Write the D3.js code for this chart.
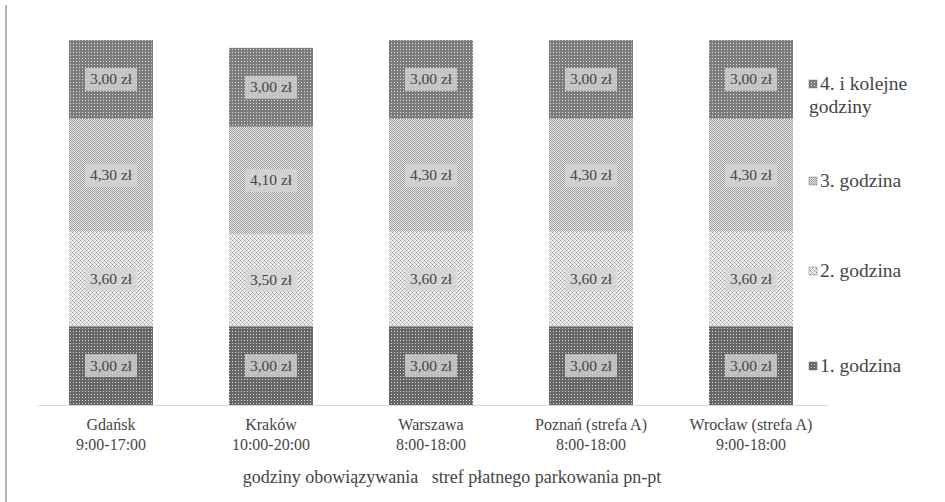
<!DOCTYPE html>
<html>
<head>
<meta charset="utf-8">
<script src="https://cdn.jsdelivr.net/npm/d3@7/dist/d3.min.js"></script>
<style>
  body { margin: 0; background: #fff; }
  svg { display: block; }
</style>
</head>
<body>
<svg id="chart" width="945" height="502"></svg>
<script>
// Cities and hours of paid parking zones (Mon–Fri)
const cities = ["Gdańsk", "Kraków", "Warszawa", "Poznań (strefa A)", "Wrocław (strefa A)"];
const hours = ["9:00-17:00", "10:00-20:00", "8:00-18:00", "8:00-18:00", "9:00-18:00"];

// Hourly fees in zł, one array per hour of parking
const hour1 = [3.00, 3.00, 3.00, 3.00, 3.00];
const hour2 = [3.60, 3.50, 3.60, 3.60, 3.60];
const hour3 = [4.30, 4.10, 4.30, 4.30, 4.30];
const hour4 = [3.00, 3.00, 3.00, 3.00, 3.00];

const seriesNames = ["1. godzina", "2. godzina", "3. godzina", "4. i kolejne godziny"];
const axisTitle = "godziny obowiązywania   stref płatnego parkowania pn-pt";

const FONT = "'Liberation Serif', 'Times New Roman', serif";
const INK = "#454545";

const svg = d3.select("#chart");
const defs = svg.append("defs");

// Fill patterns for each stacked series
function dotPattern(id, bg, dot, size) {
  const p = defs.append("pattern").attr("id", id).attr("patternUnits", "userSpaceOnUse")
    .attr("width", size).attr("height", size);
  p.append("rect").attr("width", size).attr("height", size).attr("fill", bg);
  p.append("rect").attr("x", 1).attr("y", 1).attr("width", 1).attr("height", 1).attr("fill", dot);
}
dotPattern("p1", "#666666", "#d8d8d8", 3);
// diamond lattice for the 2nd hour
(function () {
  const p = defs.append("pattern").attr("id", "p2").attr("patternUnits", "userSpaceOnUse")
    .attr("width", 4).attr("height", 4);
  p.append("rect").attr("width", 4).attr("height", 4).attr("fill", "#f2f2f2");
  [[0,0],[2,2],[1,1],[3,3],[1,3],[3,1]].forEach(([x, y], i) =>
    p.append("rect").attr("x", x).attr("y", y).attr("width", 1).attr("height", 1)
      .attr("fill", i < 2 ? "#8c8c8c" : "#c4c4c4"));
})();
// checkerboard for the 3rd hour
(function () {
  const p = defs.append("pattern").attr("id", "p3").attr("patternUnits", "userSpaceOnUse")
    .attr("width", 2).attr("height", 2);
  p.append("rect").attr("width", 2).attr("height", 2).attr("fill", "#e6e6e6");
  p.append("rect").attr("x", 0).attr("y", 0).attr("width", 1).attr("height", 1).attr("fill", "#a0a0a0");
  p.append("rect").attr("x", 1).attr("y", 1).attr("width", 1).attr("height", 1).attr("fill", "#a0a0a0");
})();
dotPattern("p4", "#7c7c7c", "#e0e0e0", 3);
const fills = ["url(#p1)", "url(#p2)", "url(#p3)", "url(#p4)"];

const rows = cities.map((c, i) => ({
  city: c, h1: hour1[i], h2: hour2[i], h3: hour3[i], h4: hour4[i]
}));
const keys = ["h1", "h2", "h3", "h4"];
const stacked = d3.stack().keys(keys)(rows);

const x = d3.scaleBand().domain(cities).range([31, 831]).paddingInner(0.475).paddingOuter(0.2375);
const y = d3.scaleLinear().domain([0, 13.9]).range([405, 40]);

// left border line
svg.append("line").attr("x1", 6).attr("x2", 6).attr("y1", 5).attr("y2", 502)
  .attr("stroke", "#9a9a9a").attr("stroke-width", 1.5);

// bars
const layers = svg.append("g").selectAll("g").data(stacked).join("g")
  .attr("fill", (d, i) => fills[i]);
layers.selectAll("rect").data(d => d).join("rect")
  .attr("x", d => x(d.data.city))
  .attr("width", x.bandwidth())
  .attr("y", d => y(d[1]))
  .attr("height", d => y(d[0]) - y(d[1]));

// data labels
const fmt = v => v.toFixed(2).replace(".", ",") + " zł";
stacked.forEach(layer => {
  layer.forEach(d => {
    const cx = x(d.data.city) + x.bandwidth() / 2;
    const cy = (y(d[0]) + y(d[1])) / 2;
    const val = d[1] - d[0];
    svg.append("rect").attr("x", cx - 26).attr("y", cy - 11.5).attr("width", 52).attr("height", 23)
      .attr("fill", "#d4d4d4").attr("fill-opacity", 0.8);
    svg.append("text").attr("x", cx).attr("y", cy + 5).attr("text-anchor", "middle")
      .style("font-family", FONT).attr("fill", INK)
      .attr("font-size", 15.5).text(fmt(val));
  });
});

// category axis
const xAxis = svg.append("g").attr("transform", "translate(0,405)")
  .call(d3.axisBottom(x).tickSize(0).tickFormat(""));
xAxis.select(".domain").attr("stroke", "#d9d9d9").attr("d", "M38,0.5H828");
cities.forEach((c, i) => {
  const cx = x(c) + x.bandwidth() / 2;
  const t = svg.append("text").attr("text-anchor", "middle").attr("font-size", 16)
    .style("font-family", FONT).attr("fill", INK);
  t.append("tspan").attr("x", cx).attr("y", 430).text(c);
  t.append("tspan").attr("x", cx).attr("y", 450).text(hours[i]);
});

// axis title
svg.append("text").attr("x", 452).attr("y", 483).attr("text-anchor", "middle")
  .style("font-family", FONT).attr("fill", INK)
  .attr("font-size", 18).style("white-space", "pre").text(axisTitle);

// legend
const legendY = [372, 277, 187, 90];
seriesNames.forEach((name, i) => {
  const g = svg.append("g").style("font-family", FONT).attr("fill", INK).attr("font-size", 19.5);
  g.append("rect").attr("x", 809).attr("y", legendY[i] - 10).attr("width", 8).attr("height", 8)
    .attr("fill", fills[i]).attr("stroke", "#777").attr("stroke-width", 0.5);
  if (i === 3) {
    const t = g.append("text");
    t.append("tspan").attr("x", 820).attr("y", legendY[i]).text("4. i kolejne");
    t.append("tspan").attr("x", 809).attr("y", legendY[i] + 23).text("godziny");
  } else {
    g.append("text").attr("x", 820).attr("y", legendY[i]).text(name);
  }
});
</script>
</body>
</html>
